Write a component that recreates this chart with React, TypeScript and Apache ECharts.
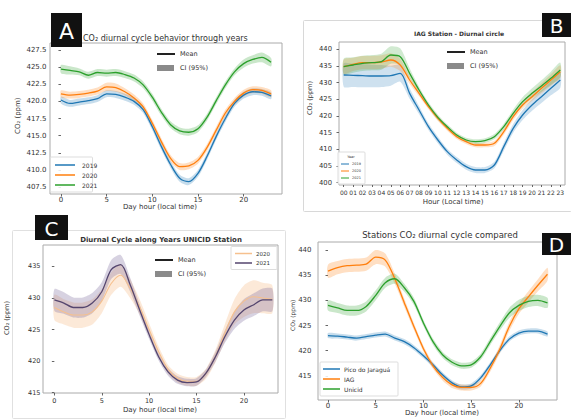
import React, { useEffect, useRef } from "react";
import * as echarts from "echarts";

const HOURS = [0, 1, 2, 3, 4, 5, 6, 7, 8, 9, 10, 11, 12, 13, 14, 15, 16, 17, 18, 19, 20, 21, 22, 23];
const HOUR_LABELS = ["00", "01", "02", "03", "04", "05", "06", "07", "08", "09", "10", "11", "12", "13", "14", "15", "16", "17", "18", "19", "20", "21", "22", "23"];

// Panel A – Pico do Jaraguá by year
const A_2019 = [420.2, 419.7, 419.9, 420.1, 420.4, 421.1, 421.0, 420.6, 420.0, 418.8, 416.3, 413.4, 410.8, 408.8, 408.3, 409.5, 412.0, 414.9, 417.5, 419.7, 420.9, 421.4, 421.3, 420.8];
const A_2020 = [421.1, 420.9, 421.0, 421.2, 421.5, 422.1, 422.0, 421.4, 420.5, 419.2, 416.8, 414.1, 411.7, 410.5, 410.6, 411.4, 413.3, 415.8, 418.3, 420.0, 421.2, 421.7, 421.6, 421.1];
const A_2021 = [424.7, 424.5, 424.3, 423.8, 424.2, 424.1, 424.2, 423.9, 423.4, 422.4, 420.6, 418.4, 416.6, 415.7, 415.5, 416.0, 417.7, 420.1, 422.4, 424.3, 425.5, 426.1, 426.4, 425.7];
const A_CI_2019 = [0.5, 0.5, 0.5, 0.5, 0.5, 0.5, 0.5, 0.5, 0.5, 0.5, 0.5, 0.5, 0.5, 0.5, 0.5, 0.5, 0.5, 0.5, 0.5, 0.5, 0.5, 0.5, 0.5, 0.5];
const A_CI_2020 = [0.5, 0.5, 0.5, 0.5, 0.5, 0.6, 0.6, 0.5, 0.5, 0.5, 0.5, 0.5, 0.5, 0.5, 0.5, 0.5, 0.5, 0.5, 0.5, 0.5, 0.5, 0.5, 0.5, 0.5];
const A_CI_2021 = [0.6, 0.6, 0.5, 0.5, 0.5, 0.5, 0.5, 0.5, 0.5, 0.5, 0.5, 0.5, 0.5, 0.5, 0.5, 0.5, 0.5, 0.5, 0.5, 0.5, 0.6, 0.6, 0.7, 0.6];

// Panel B – IAG station by year
const B_2019 = [432.3, 432.2, 432.1, 432.0, 432.0, 432.1, 432.8, 426.8, 421.8, 416.8, 412.8, 409.3, 406.8, 404.8, 403.8, 403.8, 405.3, 410.8, 416.3, 420.3, 423.3, 425.8, 428.3, 430.8];
const B_2020 = [434.8, 435.5, 436.0, 436.0, 436.2, 436.8, 435.3, 430.8, 426.8, 422.8, 419.3, 416.3, 413.8, 412.3, 411.3, 411.3, 411.8, 415.3, 419.8, 423.3, 425.8, 428.3, 430.8, 433.3];
const B_2021 = [434.8, 435.3, 435.8, 436.0, 436.3, 438.3, 437.8, 432.8, 427.8, 423.3, 419.6, 416.8, 414.3, 412.8, 412.3, 412.6, 413.8, 416.8, 420.8, 424.3, 426.8, 429.0, 431.3, 433.8];
const B_CI_2019 = [3.5, 3.5, 3.5, 3.4, 3.3, 3.0, 2.5, 1.6, 1.2, 1.0, 1.0, 0.9, 0.9, 0.9, 0.9, 0.9, 1.0, 1.2, 1.3, 1.5, 1.7, 1.9, 2.1, 2.3];
const B_CI_2020 = [2.2, 2.0, 2.0, 2.0, 2.0, 2.0, 1.8, 1.2, 0.9, 0.8, 0.8, 0.7, 0.7, 0.7, 0.7, 0.7, 0.8, 0.9, 1.0, 1.1, 1.3, 1.5, 1.7, 1.9];
const B_CI_2021 = [2.4, 2.3, 2.3, 2.3, 2.4, 2.6, 2.5, 1.5, 1.0, 0.8, 0.8, 0.7, 0.7, 0.7, 0.7, 0.7, 0.8, 0.9, 1.1, 1.3, 1.5, 1.7, 2.0, 2.2];

// Panel C – UNICID station by year
const C_2020 = [428.5, 427.8, 427.3, 427.3, 427.8, 429.5, 432.3, 433.6, 431.5, 428.6, 425.0, 421.5, 418.7, 417.3, 416.8, 416.8, 418.0, 420.8, 424.5, 427.8, 429.5, 430.2, 430.0, 429.8];
const C_2021 = [429.7, 429.2, 428.5, 428.5, 429.2, 431.0, 434.5, 435.3, 432.1, 428.1, 424.2, 420.7, 418.3, 417.0, 416.6, 416.7, 418.1, 420.7, 423.9, 426.5, 428.1, 428.9, 429.7, 429.7];
const C_CI_2020 = [2.0, 2.0, 2.0, 2.0, 2.0, 1.9, 1.8, 1.8, 1.5, 1.2, 1.0, 0.8, 0.7, 0.7, 0.7, 0.7, 0.8, 1.0, 1.4, 2.0, 2.5, 2.6, 2.4, 2.2];
const C_CI_2021 = [1.7, 1.7, 1.6, 1.6, 1.6, 1.5, 1.5, 1.5, 1.1, 0.9, 0.7, 0.6, 0.6, 0.6, 0.6, 0.6, 0.6, 0.8, 1.0, 1.4, 1.7, 1.8, 1.8, 1.8];

// Panel D – stations compared
const D_PICO = [423.0, 422.9, 422.7, 422.5, 422.8, 423.1, 423.3, 422.5, 421.8, 420.6, 419.0, 417.2, 415.2, 413.6, 412.8, 413.0, 414.6, 417.2, 420.0, 422.3, 423.5, 423.9, 423.9, 423.3];
const D_IAG = [435.8, 436.5, 436.9, 437.0, 437.2, 438.6, 438.0, 434.3, 429.5, 424.8, 420.4, 417.0, 414.7, 413.2, 412.7, 412.7, 413.5, 416.5, 420.3, 424.8, 428.3, 430.7, 433.0, 435.2];
const D_UNICID = [429.0, 428.5, 428.0, 428.0, 428.8, 431.0, 433.5, 434.3, 432.5, 429.8, 425.5, 421.8, 419.2, 417.7, 417.0, 417.2, 418.8, 421.8, 424.8, 427.5, 429.0, 429.8, 430.0, 429.5];
const D_CI_PICO = [0.5, 0.5, 0.5, 0.5, 0.5, 0.5, 0.5, 0.5, 0.5, 0.5, 0.5, 0.5, 0.5, 0.5, 0.5, 0.5, 0.5, 0.5, 0.5, 0.5, 0.5, 0.5, 0.5, 0.5];
const D_CI_IAG = [1.3, 1.3, 1.3, 1.3, 1.3, 1.4, 1.3, 1.0, 0.8, 0.7, 0.6, 0.6, 0.6, 0.6, 0.6, 0.6, 0.6, 0.7, 0.8, 0.9, 1.0, 1.1, 1.2, 1.3];
const D_CI_UNICID = [1.0, 1.0, 1.0, 1.0, 1.0, 1.0, 1.0, 1.0, 0.8, 0.7, 0.6, 0.6, 0.6, 0.6, 0.6, 0.6, 0.6, 0.7, 0.8, 1.0, 1.1, 1.1, 1.1, 1.0];

const A_YTICKS = [407.5, 410, 412.5, 415, 417.5, 420, 422.5, 425, 427.5];
const B_YTICKS = [400, 405, 410, 415, 420, 425, 430, 435, 440];
const C_YTICKS = [415, 420, 425, 430, 435];
const D_YTICKS = [415, 420, 425, 430, 435, 440];
const X_TICKS = [0, 5, 10, 15, 20];

const BLUE = "#1f77b4";
const ORANGE = "#ff7f0e";
const GREEN = "#2ca02c";
const PEACH = "#f6c08e";
const PURPLE = "#54456e";
const FONT = "DejaVu Sans";

function band(g: number, mean: number[], ci: number[], color: string, opacity: number) {
  return {
    type: "custom",
    xAxisIndex: g,
    yAxisIndex: g,
    silent: true,
    z: 1,
    data: HOURS.map((h, i) => [h, mean[i] - ci[i], mean[i] + ci[i]]),
    encode: { x: 0, y: [1, 2] },
    renderItem: (params: any, api: any) => {
      if (params.dataIndex !== 0) return null;
      const up = HOURS.map((h, i) => api.coord([h, mean[i] + ci[i]]));
      const lo = HOURS.map((h, i) => api.coord([h, mean[i] - ci[i]])).reverse();
      return {
        type: "polygon",
        shape: { points: up.concat(lo), smooth: 0.25 },
        style: { fill: color, opacity, stroke: "none" },
      };
    },
  };
}

function line(g: number, mean: number[], color: string, width = 1.3) {
  return {
    type: "line",
    xAxisIndex: g,
    yAxisIndex: g,
    silent: true,
    z: 2,
    symbol: "none",
    smooth: 0.3,
    data: HOURS.map((h, i) => [h, mean[i]]),
    lineStyle: { color, width },
  };
}

function valueX(g: number, min: number, max: number, margin: number, fontSize: number) {
  return {
    type: "value",
    gridIndex: g,
    min,
    max,
    axisLine: { show: false },
    splitLine: { show: false },
    axisTick: { show: true, customValues: X_TICKS, length: 2.5, lineStyle: { color: "#666" } },
    axisLabel: { customValues: X_TICKS, margin, fontSize, color: "#333", fontFamily: FONT },
  };
}

function valueY(g: number, min: number, max: number, ticks: number[], margin: number, fontSize: number, fmt?: (v: number) => string) {
  return {
    type: "value",
    gridIndex: g,
    min,
    max,
    axisLine: { show: false },
    splitLine: { show: false },
    axisTick: { show: true, customValues: ticks, length: 2.5, lineStyle: { color: "#666" } },
    axisLabel: { customValues: ticks, margin, fontSize, color: "#333", fontFamily: FONT, formatter: fmt },
  };
}

function txt(x: number, y: number, text: string, fontSize: number, opts: any = {}) {
  const a = opts.align || "left";
  return {
    type: "text",
    x,
    y,
    rotation: opts.rotation || 0,
    z: opts.z || 10,
    style: {
      text,
      fontSize,
      fontFamily: FONT,
      fontWeight: opts.bold ? "bold" : "normal",
      fill: opts.fill || "#333",
      align: a,
      textAlign: a,
      verticalAlign: "middle",
      textVerticalAlign: "middle",
    },
  };
}

function hline(x1: number, x2: number, y: number, color: string, w = 1.5) {
  return { type: "line", z: 10, shape: { x1, y1: y, x2, y2: y }, style: { stroke: color, lineWidth: w } };
}

function box(x: number, y: number, w: number, h: number, stroke: string, fill = "none") {
  return { type: "rect", z: 9, shape: { x, y, width: w, height: h, r: 1 }, style: { stroke, fill, lineWidth: 1 } };
}

function label(x: number, y: number, w: number, h: number, t: string, size: number) {
  return [
    { type: "rect", z: 11, shape: { x, y, width: w, height: h }, style: { fill: "#111" } },
    txt(x + w / 2, y + h / 2 + 1, t, size, { align: "center", fill: "#fff", z: 12 }),
  ];
}

function meanCi(x: number, y: number) {
  return [
    hline(x, x + 18, y, "#222", 2),
    txt(x + 23, y, "Mean", 6.5),
    { type: "rect", z: 10, shape: { x, y: y + 11, width: 17, height: 6 }, style: { fill: "#8a8a8a" } },
    txt(x + 23, y + 14, "CI (95%)", 6.5),
  ];
}

export default function App() {
  const ref = useRef<HTMLDivElement>(null);
  useEffect(() => {
    document.body.style.margin = "0";
    const chart = echarts.init(ref.current!, undefined, { renderer: "svg" });
    const gridStyle = { show: true, borderColor: "#aaa", borderWidth: 1, backgroundColor: "transparent" };
    const option: any = {
      animation: false,
      backgroundColor: "#fff",
      grid: [
        { left: 50, top: 43, width: 232, height: 151, ...gridStyle },
        { left: 339, top: 42, width: 226, height: 143, ...gridStyle },
        { left: 43, top: 245, width: 235, height: 148, ...gridStyle },
        { left: 318, top: 242, width: 239, height: 158, ...gridStyle },
      ],
      xAxis: [
        valueX(0, -1.2, 24.2, 2, 7),
        {
          type: "category",
          gridIndex: 1,
          data: HOUR_LABELS,
          boundaryGap: true,
          axisLine: { show: false },
          axisTick: { show: true, alignWithLabel: true, length: 2, lineStyle: { color: "#666" } },
          axisLabel: { interval: 0, margin: 4, fontSize: 6, color: "#333", fontFamily: FONT },
        },
        valueX(2, -1.2, 23.6, 4, 6.5),
        valueX(3, -1.05, 24.0, 2, 7),
      ],
      yAxis: [
        valueY(0, 406.5, 428.5, A_YTICKS, 3.5, 7, (v: number) => v.toFixed(1)),
        valueY(1, 399.3, 442.2, B_YTICKS, 7, 6.8),
        valueY(2, 414.95, 438.4, C_YTICKS, 2.5, 6.5),
        valueY(3, 410.2, 441.6, D_YTICKS, 6.5, 7),
      ],
      series: [
        band(0, A_2019, A_CI_2019, BLUE, 0.25),
        band(0, A_2020, A_CI_2020, ORANGE, 0.25),
        band(0, A_2021, A_CI_2021, GREEN, 0.25),
        line(0, A_2019, BLUE),
        line(0, A_2020, ORANGE),
        line(0, A_2021, GREEN),
        band(1, B_2019, B_CI_2019, BLUE, 0.22),
        band(1, B_2020, B_CI_2020, ORANGE, 0.22),
        band(1, B_2021, B_CI_2021, GREEN, 0.22),
        line(1, B_2019, BLUE),
        line(1, B_2020, ORANGE),
        line(1, B_2021, GREEN),
        band(2, C_2020, C_CI_2020, PEACH, 0.35),
        band(2, C_2021, C_CI_2021, "#7a6a9a", 0.3),
        line(2, C_2020, PEACH, 1.1),
        line(2, C_2021, PURPLE, 1.3),
        band(3, D_PICO, D_CI_PICO, BLUE, 0.25),
        band(3, D_IAG, D_CI_IAG, ORANGE, 0.25),
        band(3, D_UNICID, D_CI_UNICID, GREEN, 0.25),
        line(3, D_PICO, BLUE),
        line(3, D_IAG, ORANGE),
        line(3, D_UNICID, GREEN),
      ],
      graphic: [
        // frames
        box(303.5, 20.5, 268, 191, "#d8d8d8"),
        box(12.5, 230.5, 273, 188, "#e0e0e0"),
        // Panel A
        ...label(51, 13, 31, 34, "A", 22),
        txt(83, 38, "CO\u2082 diurnal cycle behavior through years", 8),
        ...meanCi(157, 54),
        box(50.5, 157, 42, 35, "#ddd", "rgba(255,255,255,0.85)"),
        hline(55, 75, 165, BLUE), txt(82, 165, "2019", 6),
        hline(55, 75, 175, ORANGE), txt(82, 175, "2020", 6),
        hline(55, 75, 185, GREEN), txt(82, 185, "2021", 6),
        txt(18, 134, "CO\u2082 (ppm)", 7, { rotation: Math.PI / 2 }),
        txt(160, 207, "Day hour (local time)", 7, { align: "center" }),
        // Panel B
        ...label(542, 13, 29, 24, "B", 20),
        txt(459, 33, "IAG Station - Diurnal circle", 6, { bold: true, align: "center" }),
        ...meanCi(447, 52),
        box(338, 152, 27, 32, "#ddd", "rgba(255,255,255,0.85)"),
        txt(351, 157, "Year", 3.5, { align: "center" }),
        hline(341, 349, 164, BLUE, 1), txt(352, 164, "2019", 3.5),
        hline(341, 349, 171, ORANGE, 1), txt(352, 171, "2020", 3.5),
        hline(341, 349, 178, GREEN, 1), txt(352, 178, "2021", 3.5),
        txt(310, 115, "CO\u2082 (ppm)", 6.5, { rotation: Math.PI / 2 }),
        txt(453, 202, "Hour (Local time)", 7, { align: "center" }),
        // Panel C
        ...label(35, 215, 33, 25, "C", 20),
        txt(161, 240, "Diurnal Cycle along Years UNICID Station", 7, { bold: true, align: "center" }),
        ...meanCi(155, 260),
        box(231, 246.5, 46, 23, "#ddd", "rgba(255,255,255,0.85)"),
        hline(235, 252, 253.5, PEACH), txt(256, 253.5, "2020", 5.5),
        hline(235, 252, 263, PURPLE), txt(256, 263, "2021", 5.5),
        txt(7, 335, "CO\u2082 (ppm)", 6.5, { rotation: Math.PI / 2 }),
        txt(160, 410, "Day hour (local time)", 7, { align: "center" }),
        // Panel D
        ...label(542, 233, 29, 22, "D", 20),
        txt(440, 235, "Stations CO\u2082 diurnal cycle compared", 8.5, { align: "center" }),
        box(320, 362, 78, 34, "#ddd", "rgba(255,255,255,0.85)"),
        hline(323, 340, 369, BLUE), txt(344, 369, "Pico do Jaragu\u00e1", 6),
        hline(323, 340, 379, ORANGE), txt(344, 379, "IAG", 6),
        hline(323, 340, 389, GREEN), txt(344, 389, "Unicid", 6),
        txt(292, 331, "CO\u2082 (ppm)", 6, { rotation: Math.PI / 2 }),
        txt(442, 413, "Day hour (local time)", 7, { align: "center" }),
      ],
    };
    chart.setOption(option);
    return () => chart.dispose();
  }, []);
  return <div ref={ref} style={{ width: 571, height: 419 }} />;
}
